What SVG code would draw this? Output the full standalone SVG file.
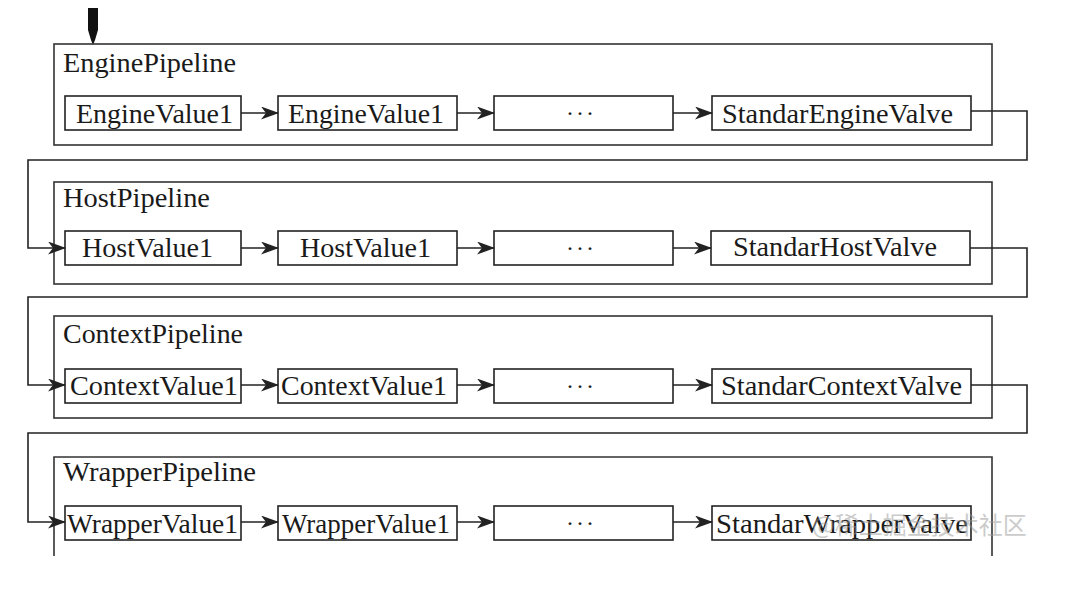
<svg xmlns="http://www.w3.org/2000/svg" width="1090" height="589" viewBox="0 0 1090 589">
<style>
.pipe{fill:none;stroke:#333;stroke-width:1.6}
.box{fill:#fff;stroke:#222;stroke-width:1.6}
.t{font-family:"Liberation Serif","DejaVu Serif",serif;font-size:27px;fill:#1a1a1a}
.d{font-family:"Liberation Serif","DejaVu Serif",serif;font-size:24px;fill:#1a1a1a}
.c{fill:none;stroke:#222;stroke-width:1.6}
.wm{font-family:"Noto Sans CJK SC",sans-serif;font-size:24px;fill:#999;opacity:0.5}
</style>
<defs>
<marker id="ah" markerWidth="18" markerHeight="13" refX="17" refY="6.5" orient="auto" markerUnits="userSpaceOnUse">
<path d="M0,0 L18,6.5 L0,13 L5,6.5 z" fill="#222"/>
</marker>
</defs>
<rect width="1090" height="589" fill="#fff"/>
<g id="start">
<path d="M88,8 L98,8 L98,30 L95,40 L93,45 L91,40 L88,30 z" fill="#111"/>
</g>
<g id="engine">
<rect class="pipe" x="54" y="44" width="938" height="101"/>
<text class="t" x="63" y="72" textLength="173" lengthAdjust="spacingAndGlyphs">EnginePipeline</text>
<rect class="box" x="65" y="96" width="176" height="34"/>
<text class="t" x="76" y="123" textLength="157" lengthAdjust="spacingAndGlyphs">EngineValue1</text>
<rect class="box" x="278" y="96" width="179" height="34"/>
<text class="t" x="288" y="123" textLength="156" lengthAdjust="spacingAndGlyphs">EngineValue1</text>
<rect class="box" x="494" y="96" width="179" height="34"/>
<text class="d" x="566" y="121" textLength="28" lengthAdjust="spacing">···</text>
<rect class="box" x="712" y="96" width="259" height="34"/>
<text class="t" x="722" y="123" textLength="231" lengthAdjust="spacingAndGlyphs">StandarEngineValve</text>
</g>
<g id="host">
<rect class="pipe" x="54" y="182" width="938" height="102"/>
<text class="t" x="63" y="207" textLength="147" lengthAdjust="spacingAndGlyphs">HostPipeline</text>
<rect class="box" x="65" y="231" width="176" height="34"/>
<text class="t" x="82" y="257" textLength="131" lengthAdjust="spacingAndGlyphs">HostValue1</text>
<rect class="box" x="278" y="231" width="179" height="34"/>
<text class="t" x="300" y="257" textLength="131" lengthAdjust="spacingAndGlyphs">HostValue1</text>
<rect class="box" x="494" y="231" width="179" height="34"/>
<text class="d" x="566" y="256" textLength="28" lengthAdjust="spacing">···</text>
<rect class="box" x="711" y="231" width="259" height="34"/>
<text class="t" x="733" y="256" textLength="204" lengthAdjust="spacingAndGlyphs">StandarHostValve</text>
</g>
<g id="context">
<rect class="pipe" x="54" y="316" width="938" height="102"/>
<text class="t" x="63" y="343" textLength="180" lengthAdjust="spacingAndGlyphs">ContextPipeline</text>
<rect class="box" x="65" y="369" width="176" height="34"/>
<text class="t" x="70" y="395" textLength="168" lengthAdjust="spacingAndGlyphs">ContextValue1</text>
<rect class="box" x="278" y="369" width="179" height="34"/>
<text class="t" x="281" y="395" textLength="166" lengthAdjust="spacingAndGlyphs">ContextValue1</text>
<rect class="box" x="494" y="369" width="179" height="34"/>
<text class="d" x="566" y="394" textLength="28" lengthAdjust="spacing">···</text>
<rect class="box" x="712" y="369" width="259" height="34"/>
<text class="t" x="721" y="395" textLength="241" lengthAdjust="spacingAndGlyphs">StandarContextValve</text>
</g>
<g id="wrapper">
<path class="pipe" d="M54,556 L54,457 L992,457 L992,556"/>
<text class="t" x="63" y="481" textLength="193" lengthAdjust="spacingAndGlyphs">WrapperPipeline</text>
<rect class="box" x="65" y="506" width="176" height="34"/>
<text class="t" x="67" y="533" textLength="171" lengthAdjust="spacingAndGlyphs">WrapperValue1</text>
<rect class="box" x="278" y="506" width="179" height="34"/>
<text class="t" x="282" y="533" textLength="168" lengthAdjust="spacingAndGlyphs">WrapperValue1</text>
<rect class="box" x="494" y="506" width="179" height="34"/>
<text class="d" x="566" y="531" textLength="28" lengthAdjust="spacing">···</text>
<rect class="box" x="712" y="506" width="259" height="34"/>
<text class="t" x="716" y="533" textLength="252" lengthAdjust="spacingAndGlyphs">StandarWrapperValve</text>
</g>
<g id="connectors">
<line class="c" x1="241" y1="113" x2="278" y2="113" marker-end="url(#ah)"/>
<line class="c" x1="457" y1="113" x2="494" y2="113" marker-end="url(#ah)"/>
<line class="c" x1="673" y1="113" x2="712" y2="113" marker-end="url(#ah)"/>
<polyline class="c" points="971,111 1027,111 1027,160 28,160 28,248 65,248" marker-end="url(#ah)"/>
<line class="c" x1="241" y1="248" x2="278" y2="248" marker-end="url(#ah)"/>
<line class="c" x1="457" y1="248" x2="494" y2="248" marker-end="url(#ah)"/>
<line class="c" x1="673" y1="248" x2="711" y2="248" marker-end="url(#ah)"/>
<polyline class="c" points="970,248 1027,248 1027,297 28,297 28,385 65,385" marker-end="url(#ah)"/>
<line class="c" x1="241" y1="385" x2="278" y2="385" marker-end="url(#ah)"/>
<line class="c" x1="457" y1="385" x2="494" y2="385" marker-end="url(#ah)"/>
<line class="c" x1="673" y1="385" x2="712" y2="385" marker-end="url(#ah)"/>
<polyline class="c" points="971,385 1027,385 1027,433 28,433 28,522 65,522" marker-end="url(#ah)"/>
<line class="c" x1="241" y1="522" x2="278" y2="522" marker-end="url(#ah)"/>
<line class="c" x1="457" y1="522" x2="494" y2="522" marker-end="url(#ah)"/>
<line class="c" x1="673" y1="522" x2="712" y2="522" marker-end="url(#ah)"/>
</g>
<text class="wm" x="812" y="534">@稀土掘金技术社区</text>
</svg>
